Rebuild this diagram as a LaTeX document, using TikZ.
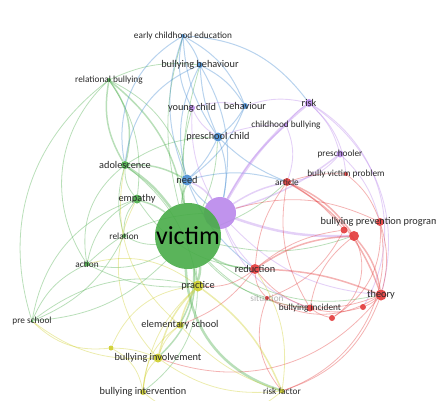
\documentclass[tikz,border=0pt]{standalone}
\usepackage{fontspec}
\setmainfont{Carlito}
\usetikzlibrary{backgrounds}

\definecolor{vgreen}{RGB}{72,172,72}
\definecolor{vblue}{RGB}{70,140,210}
\definecolor{vpurple}{RGB}{185,135,235}
\definecolor{vred}{RGB}{226,56,56}
\definecolor{vyellow}{RGB}{205,205,40}
\definecolor{lblgray}{RGB}{40,40,40}

\begin{document}
\begin{tikzpicture}[x=1pt, y=-1pt,
  kw/.style={circle, inner sep=0pt, minimum size=#1, fill opacity=0.9},
  gkw/.style={kw=#1, fill=vgreen},
  bkw/.style={kw=#1, fill=vblue},
  pkw/.style={kw=#1, fill=vpurple},
  rkw/.style={kw=#1, fill=vred},
  ykw/.style={kw=#1, fill=vyellow},
  lbl/.style={font=\fontsize{9.3}{10}\selectfont, text=lblgray, text opacity=1, inner sep=0pt},
  mlbl/.style={lbl, font=\fontsize{10.3}{11}\selectfont},
  link/.style={line width=#1, opacity=0.38},
  glink/.style={link=#1, draw=vgreen},
  blink/.style={link=#1, draw=vblue},
  plink/.style={link=#1, draw=vpurple},
  rlink/.style={link=#1, draw=vred},
  ylink/.style={link=#1, draw=vyellow}
]
  \useasboundingbox (0,0) rectangle (436,401);

  % big nodes
  \node[pkw=32] (prp) at (220,213) {};
  \node[gkw=66, label={[lbl, font=\fontsize{26}{26}\selectfont, text=black]center:victim}] (vic) at (188,236) {};

  % blue cluster
  \node[bkw=4, label={[lbl]center:early childhood education}] (ece) at (183,36) {};
  \node[bkw=6, label={[mlbl]center:bullying behaviour}] (bbeh) at (200,65) {};
  \node[bkw=6, label={[mlbl]center:behaviour}] (beh) at (245,106) {};
  \node[bkw=9, label={[mlbl]center:preschool child}] (psc) at (218,137) {};
  \node[bkw=11, label={[mlbl]center:need}] (need) at (187,180) {};

  % purple cluster
  \node[pkw=6, label={[mlbl]center:young child}] (ych) at (192,108) {};
  \node[pkw=8, label={[mlbl]center:risk}] (risk) at (309,103) {};
  \node[pkw=4, label={[lbl]center:childhood bullying}] (chb) at (286,125) {};
  \node[pkw=7, label={[lbl]center:preschooler}] (pschr) at (340,154) {};

  % green cluster
  \node[gkw=4, label={[lbl]center:relational bullying}] (relb) at (109,80) {};
  \node[gkw=8, label={[mlbl]center:adolescence}] (ado) at (125,165) {};
  \node[gkw=9, label={[mlbl]center:empathy}] (emp) at (137,199) {};
  \node[gkw=4, label={[lbl]center:relation}] (rel) at (124,236) {};
  \node[gkw=5, label={[lbl]center:action}] (act) at (87,264) {};
  \node[gkw=3, label={[lbl]center:pre school}] (pres) at (32,321) {};

  % red cluster
  \node[rkw=8, label={[lbl]center:article}] (art) at (287,182) {};
  \node[rkw=4, label={[lbl]center:bully victim problem}] (bvp) at (346,174) {};
  \node[rkw=8, label={[mlbl]center:bullying prevention program}] (bpp1) at (380,222) {};
  \node[rkw=7] (bpp2) at (344,230) {};
  \node[rkw=10] (bpp3) at (354,236) {};
  \node[rkw=10, label={[mlbl]center:reduction}] (red) at (255,269) {};
  \node[rkw=11, label={[mlbl]center:theory}] (theo) at (381,295) {};
  \node[rkw=4, label={[lbl, text opacity=0.35]center:situation}] (sit) at (267,298) {};
  \node[rkw=7, label={[lbl]center:bullying incident}] (binc) at (310,308) {};
  \node[rkw=6] (rr1) at (363,307) {};
  \node[rkw=6] (rr2) at (332,318) {};

  % yellow cluster
  \node[ykw=11, label={[mlbl]center:practice}] (prac) at (198,286) {};
  \node[ykw=7, label={[mlbl]center:elementary school}] (els) at (180,325) {};
  \node[ykw=5] (yy1) at (111,348) {};
  \node[ykw=9, label={[mlbl]center:bullying involvement}] (binv) at (158,358) {};
  \node[ykw=6, label={[mlbl]center:bullying intervention}] (bint) at (143,392) {};
  \node[ykw=5, label={[lbl]center:risk factor}] (rf) at (282,391) {};

  \begin{scope}[on background layer]
    % victim links
    \path[glink=2.5] (vic) edge[bend right=10] (ado) (vic) edge[bend left=10] (prac)
      (vic) edge[bend right=35] (rf);
    \path[glink=1.5] (vic) edge[bend right=10] (emp) (vic) edge[bend left=15] (els)
      (vic) edge[bend left=10] (need) (vic) edge[bend right=15] (red)
      (vic) edge[bend right=20] (relb) (vic) edge[bend left=25] (binv);
    \path[glink=0.8] (vic) edge[bend left=15] (rel) (vic) edge[bend left=20] (act)
      (vic) edge[bend left=20] (pres) (vic) edge[bend left=30] (bint)
      (vic) edge[bend right=10] (psc) (vic) edge[bend right=15] (bpp3)
      (vic) edge[bend right=25] (theo) (vic) edge[bend right=10] (art)
      (vic) edge[bend left=10] (bbeh) (vic) edge[bend left=15] (ece)
      (vic) edge[bend right=20] (binc) (vic) edge[bend right=15] (sit)
      (vic) edge[bend left=10] (ych);
    \path[glink=3] (vic) edge (prp);
    % green links
    \path[glink=1.5] (relb) edge[bend right=20] (ado) (relb) edge[bend left=25] (ado)
      (ado) edge[bend left=15] (need);
    \path[glink=0.8] (ado) edge[bend right=20] (emp) (ado) edge[bend right=30] (act)
      (ado) edge[bend right=15] (rel) (emp) edge[bend right=20] (rel)
      (emp) edge[bend right=25] (act) (act) edge[bend right=20] (pres)
      (rel) edge[bend left=20] (pres) (relb) edge[bend right=40] (act)
      (relb) edge[bend left=20] (emp) (relb) edge[bend left=25] (need)
      (ado) edge[bend left=20] (prac) (pres) edge[bend left=25] (prac)
      (act) edge[bend left=20] (prp) (relb) edge[bend left=15] (bbeh)
      (ado) edge[bend left=15] (psc) (emp) edge[bend right=25] (red)
      (relb) edge[bend right=35] (pres) (pres) edge[bend left=30] (emp)
      (act) edge[bend right=15] (prac);
    % blue links
    \path[blink=1] (ece) edge[bend left=10] (bbeh) (ece) edge[bend right=15] (psc)
      (ece) edge[bend right=20] (need) (ece) edge[bend right=20] (ych)
      (ece) edge[bend left=20] (beh) (ece) edge[bend left=25] (risk)
      (bbeh) edge[bend right=10] (psc) (bbeh) edge[bend right=20] (need)
      (bbeh) edge[bend left=15] (beh) (beh) edge[bend left=10] (psc)
      (beh) edge[bend left=15] (need) (psc) edge[bend left=10] (need)
      (need) edge[bend right=10] (prp) (psc) edge[bend left=15] (prp)
      (bbeh) edge[bend left=20] (prp) (need) edge[bend left=15] (art)
      (psc) edge[bend right=10] (art) (bbeh) edge[bend right=30] (ado)
      (ece) edge[bend right=35] (ado) (need) edge[bend right=15] (red);
    % purple links
    \path[plink=2.5] (prp) edge[bend left=10] (risk) (prp) edge[bend right=10] (bpp3);
    \path[plink=1.5] (prp) edge[bend left=10] (chb) (prp) edge[bend right=10] (pschr)
      (prp) edge[bend left=10] (art) (prp) edge[bend right=15] (need);
    \path[plink=0.9] (prp) edge[bend left=15] (ych) (prp) edge[bend right=20] (theo)
      (prp) edge[bend right=10] (red) (risk) edge[bend right=10] (chb)
      (risk) edge[bend left=15] (pschr) (risk) edge[bend left=35] (theo)
      (risk) edge[bend left=20] (bvp) (ych) edge[bend right=15] (psc)
      (ych) edge[bend left=15] (beh) (chb) edge[bend right=10] (psc)
      (pschr) edge[bend left=15] (bpp1) (risk) edge[bend right=15] (beh)
      (chb) edge[bend left=20] (art) (pschr) edge[bend left=20] (art)
      (risk) edge[bend left=45] (rr1) (prp) edge[bend right=25] (binc);
    % red links
    \path[rlink=1.5] (art) edge[bend left=15] (bpp3) (red) edge[bend left=15] (bpp3)
      (bpp3) edge[bend left=15] (theo) (red) edge[bend left=10] (theo)
      (art) edge[bend left=20] (theo);
    \path[rlink=0.8] (art) edge[bend right=15] (red) (red) edge[bend right=15] (binc)
      (red) edge[bend right=20] (sit) (bpp1) edge[bend left=15] (theo)
      (theo) edge[bend left=10] (binc) (theo) edge[bend left=10] (rr1)
      (binc) edge[bend right=15] (rr1) (binc) edge[bend right=10] (rr2)
      (sit) edge[bend right=10] (binc) (bpp1) edge[bend left=40] (rf)
      (theo) edge[bend left=25] (rf) (bvp) edge[bend left=15] (bpp1)
      (art) edge[bend left=10] (bvp) (bpp2) edge[bend right=10] (art)
      (bpp2) edge[bend right=15] (red) (bpp3) edge[bend right=20] (binc)
      (sit) edge[bend right=30] (rf) (red) edge[bend left=20] (prac)
      (bpp1) edge[bend left=30] (rr2) (theo) edge[bend left=30] (sit)
      (bpp1) edge[bend right=20] (prp) (bpp3) edge[bend left=40] (rr2)
      (red) edge[bend left=15] (els) (theo) edge[bend left=35] (binv)
      (bpp2) edge[bend left=20] (sit) (art) edge[bend right=20] (binc);
    % yellow links
    \path[ylink=1.5] (prac) edge[bend right=10] (els) (prac) edge[bend right=15] (binv)
      (prac) edge[bend left=15] (rf);
    \path[ylink=0.8] (prac) edge[bend right=20] (bint) (els) edge[bend right=15] (binv)
      (els) edge[bend right=25] (bint) (binv) edge[bend right=20] (bint)
      (yy1) edge[bend left=10] (binv) (yy1) edge[bend left=30] (prac)
      (yy1) edge[bend left=25] (pres) (rf) edge[bend left=20] (binv)
      (rf) edge[bend left=15] (els) (pres) edge[bend right=20] (binv)
      (bint) edge[bend right=40] (rf) (yy1) edge[bend left=25] (bint)
      (prac) edge[bend right=25] (act) (els) edge[bend left=30] (ado)
      (binv) edge[bend left=35] (emp) (rf) edge[bend right=20] (red);
  \end{scope}
\end{tikzpicture}
\end{document}
